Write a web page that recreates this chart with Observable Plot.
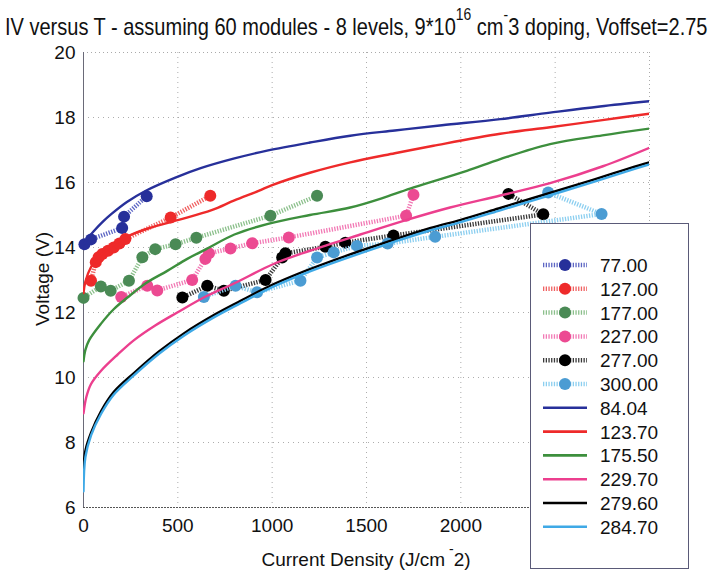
<!DOCTYPE html>
<html><head><meta charset="utf-8">
<script src="https://cdn.jsdelivr.net/npm/d3@7"></script>
<script src="https://cdn.jsdelivr.net/npm/@observablehq/plot@0.6"></script>
<style>
body{margin:0;background:#fff;}
#wrap{position:relative;width:719px;height:576px;overflow:hidden;background:#fff;font-family:"Liberation Sans",Arial,sans-serif;}
#wrap > svg{position:absolute;left:0;top:0;}
</style></head><body><div id="wrap"></div>
<script>
// ---------- data ----------
const xTicks = [0, 500, 1000, 1500, 2000];
const xGrid = [500, 1000, 1500, 2000, 2500];
const yTicks = [6, 8, 10, 12, 14, 16, 18, 20];
const yGrid = [8, 10, 12, 14, 16, 18];

const measuredLabels = ["77.00", "127.00", "177.00", "227.00", "277.00", "300.00"];
const fitLabels = ["84.04", "123.70", "175.50", "229.70", "279.60", "284.70"];

// measured points [current density, voltage]
const meas77 = [[5,14.1],[40,14.25],[205,14.6],[215,14.95],[335,15.58]];
const meas127 = [[40,12.98],[65,13.55],[80,13.7],[100,13.8],[130,13.9],[160,14.0],[190,14.12],[222,14.26],[462,14.92],[672,15.59]];
const meas177 = [[0,12.45],[92,12.8],[144,12.67],[241,12.98],[312,13.7],[380,13.95],[488,14.1],[598,14.3],[991,14.98],[1238,15.59]];
const meas227 = [[200,12.48],[338,12.82],[391,12.68],[576,13.0],[646,13.65],[665,13.82],[779,13.97],[894,14.13],[1088,14.31],[1710,14.98],[1749,15.62]];
const meas277 = [[524,12.46],[656,12.82],[744,12.67],[965,13.0],[1053,13.69],[1070,13.82],[1282,14.02],[1388,14.15],[1643,14.37],[2437,15.02],[2252,15.65]];
const meas300 = [[638,12.48],[806,12.82],[920,12.62],[1150,12.98],[1238,13.69],[1326,13.85],[1450,14.05],[1612,14.12],[1864,14.33],[2746,15.03],[2463,15.69]];

// model curves [current density, voltage]
const fit84 = [[0,14.1],[25,14.3],[54,14.5],[100,14.78],[150,15.04],[230,15.4],[328,15.74],[487,16.15],[621,16.44],[800,16.74],[973,16.98],[1200,17.23],[1414,17.44],[1650,17.6],[1900,17.76],[2209,17.95],[2473,18.15],[2737,18.34],[3000,18.5]];
const fit123 = [[0,12.6],[10,12.95],[40,13.4],[80,13.7],[150,14.05],[240,14.36],[350,14.6],[504,14.85],[679,15.15],[800,15.45],[928,15.74],[1000,15.92],[1200,16.3],[1414,16.62],[1650,16.9],[1855,17.13],[2209,17.5],[2473,17.7],[2750,17.92],[3000,18.12]];
const fit175 = [[0,10.5],[10,10.85],[30,11.15],[92,11.65],[160,12.1],[233,12.46],[330,12.9],[444,13.28],[550,13.65],[650,13.95],[800,14.4],[973,14.72],[1200,15.0],[1414,15.23],[1600,15.55],[1750,15.85],[2032,16.36],[2209,16.72],[2473,17.18],[2750,17.45],[3000,17.66]];
const fit229 = [[0,8.9],[15,9.4],[40,9.8],[92,10.2],[180,10.7],[268,11.15],[380,11.6],[497,12.0],[650,12.5],[800,12.9],[1010,13.5],[1200,13.9],[1467,14.4],[1714,14.85],[1943,15.23],[2209,15.6],[2473,15.98],[2753,16.5],[3000,17.07]];
const fit279 = [[0,7.2],[10,7.75],[40,8.3],[92,8.95],[160,9.55],[270,10.15],[400,10.8],[530,11.35],[700,11.95],[830,12.35],[1000,12.85],[1150,13.22],[1300,13.55],[1470,13.9],[1650,14.25],[1840,14.6],[2000,14.85],[2200,15.2],[2370,15.5],[2700,16.08],[2900,16.45],[3000,16.62]];
const fit284 = [[0,6.5],[10,7.55],[40,8.22],[92,8.87],[160,9.47],[270,10.08],[400,10.73],[530,11.28],[700,11.88],[830,12.28],[1000,12.78],[1150,13.15],[1300,13.48],[1470,13.83],[1650,14.18],[1840,14.53],[2000,14.78],[2200,15.13],[2370,15.43],[2700,16.01],[2900,16.38],[3000,16.56]];

// ---------- styles ----------
const measured = [meas77, meas127, meas177, meas227, meas277, meas300];
const fits = [fit84, fit123, fit175, fit229, fit279, fit284];
const dotColor = ["#27309a", "#ee2a2a", "#4a8a55", "#ec4a92", "#000000", "#4b9cd3"];
const hatchColor = ["#5d66c4", "#f06262", "#8cc08c", "#f27ab5", "#3a3a3a", "#8ccff0"];
const fitColor = ["#27309a", "#ee2a2a", "#3d8f3d", "#ec3f8e", "#000000", "#3fa9e6"];
const HATCH = "1.3,1.4";

const X = d => d[0], Y = d => d[1];
const marks = [
  Plot.gridX({ticks: xGrid, stroke: "#999", strokeOpacity: 0.8, strokeDasharray: "1,4"}),
  Plot.gridY({ticks: yGrid, stroke: "#999", strokeOpacity: 0.8, strokeDasharray: "1,4"}),
  Plot.ruleY([20], {stroke: "#aaa", strokeDasharray: "1,3"}),
  Plot.ruleX([3000], {stroke: "#aaa", strokeDasharray: "1,3"}),
  Plot.ruleX([0], {stroke: "#6a6a78", strokeWidth: 1}),
  Plot.ruleY([6], {stroke: "#555", strokeDasharray: "2,1"})
];
measured.forEach((m, i) => {
  marks.push(Plot.line(m, {x: X, y: Y, stroke: hatchColor[i], strokeWidth: 4.5, strokeDasharray: HATCH, strokeLinecap: "butt", strokeLinejoin: "miter"}));
  marks.push(Plot.dot(m, {x: X, y: Y, r: 6, fill: dotColor[i], stroke: "none"}));
});
fits.forEach((f, i) => {
  marks.push(Plot.line(f, {x: X, y: Y, stroke: fitColor[i], strokeWidth: 2.4, curve: "catmull-rom", clip: true}));
});
marks.push(Plot.axisX({ticks: xTicks, tickSize: 0, tickPadding: 11, label: null, fontSize: 19, tickFormat: d => String(d)}));
marks.push(Plot.axisY({ticks: yTicks, tickSize: 0, tickPadding: 8, label: null, fontSize: 19}));

const chart = Plot.plot({
  width: 719, height: 576,
  marginLeft: 83, marginRight: 70, marginTop: 52, marginBottom: 69,
  style: {fontFamily: "'Liberation Sans', Arial, sans-serif", color: "#111", background: "transparent", overflow: "visible"},
  x: {domain: [0, 3000], label: null},
  y: {domain: [6, 20], label: null},
  marks
});
const wrap = document.getElementById("wrap");
wrap.appendChild(chart);

// ---------- overlay: title, axis labels, legend ----------
const ov = d3.select(wrap).append("svg").attr("width", 719).attr("height", 576)
  .style("font-family", "'Liberation Sans', Arial, sans-serif").style("pointer-events", "none");

const title = ov.append("text").attr("font-size", 23).attr("fill", "#111");
title.append("tspan").text("IV versus T - assuming 60 modules - 8 levels, 9*10");
title.append("tspan").attr("font-size", 16).attr("dy", -15).text("16");
title.append("tspan").attr("dy", 15).text(" cm");
title.append("tspan").attr("font-size", 16).attr("dy", -15).text("-");
title.append("tspan").attr("dy", 15).text("3 doping, Voffset=2.75");
const tw = title.node().getComputedTextLength();
title.attr("transform", `translate(5,35) scale(${703 / tw},1)`);

const xl = ov.append("text").attr("x", 366).attr("y", 566).attr("text-anchor", "middle").attr("font-size", 19).attr("fill", "#111");
xl.append("tspan").text("Current Density (J/cm");
xl.append("tspan").attr("font-size", 14).attr("dy", -12).text(" -");
xl.append("tspan").attr("dy", 12).text("2)");

ov.append("text").attr("transform", "translate(49,279) rotate(-90)").attr("text-anchor", "middle")
  .attr("font-size", 19).attr("fill", "#111").text("Voltage (V)");

const lg = ov.append("g");
lg.append("rect").attr("x", 530.5).attr("y", 223.5).attr("width", 158).attr("height", 345)
  .attr("fill", "#fff").attr("stroke", "#5a5a78").attr("stroke-width", 1);
const rowY = i => 265 + i * 23.8;
measuredLabels.forEach((lab, i) => {
  const y = rowY(i);
  lg.append("line").attr("x1", 543).attr("x2", 587).attr("y1", y).attr("y2", y)
    .attr("stroke", hatchColor[i]).attr("stroke-width", 4.5).attr("stroke-dasharray", HATCH);
  lg.append("circle").attr("cx", 565).attr("cy", y).attr("r", 6).attr("fill", dotColor[i]);
  lg.append("text").attr("x", 600).attr("y", y + 7).attr("font-size", 19).attr("fill", "#111").text(lab);
});
fitLabels.forEach((lab, j) => {
  const i = j + 6, y = rowY(i);
  lg.append("line").attr("x1", 543).attr("x2", 587).attr("y1", y).attr("y2", y)
    .attr("stroke", fitColor[j]).attr("stroke-width", 2.6);
  lg.append("text").attr("x", 600).attr("y", y + 7).attr("font-size", 19).attr("fill", "#111").text(lab);
});
</script></body></html>
